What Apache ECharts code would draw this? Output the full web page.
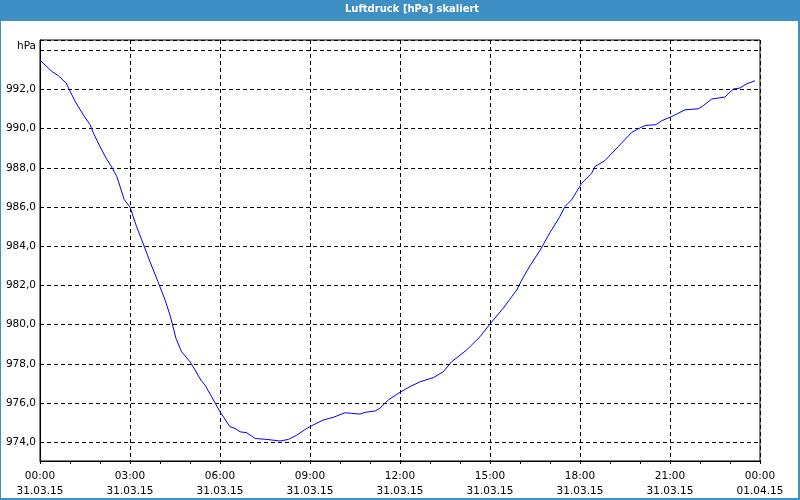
<!DOCTYPE html>
<html>
<head>
<meta charset="utf-8">
<script src="https://cdn.jsdelivr.net/npm/echarts@6/dist/echarts.min.js"></script>
<style>
html,body{margin:0;padding:0;background:#fff;}
#c{width:800px;height:500px;}
</style>
</head>
<body>
<div id="c"></div>
<script>
// Time in hours since 31.03.15 00:00
var hours = [0,0.39,0.61,0.87,0.98,1.17,1.44,1.67,1.78,2.0,2.2,2.39,2.56,2.81,3.0,3.22,3.39,3.67,3.93,4.17,4.33,4.42,4.53,4.72,5.0,5.17,5.36,5.5,5.72,6.0,6.33,6.5,6.67,6.89,7.17,7.56,8.0,8.28,8.56,8.89,9.06,9.44,9.78,10.17,10.39,10.67,10.83,11.17,11.33,11.61,11.89,12.33,12.67,13.11,13.44,13.72,14.22,14.67,15.0,15.44,15.89,16.06,16.33,16.67,17.0,17.33,17.5,17.72,18.06,18.39,18.5,18.83,19.28,19.72,19.94,20.17,20.53,20.72,21.06,21.5,21.94,22.11,22.39,22.83,23.11,23.33,23.56,23.83];
var pressure = [993.5,992.92,992.7,992.33,991.98,991.39,990.71,990.2,989.77,989.09,988.5,988.04,987.56,986.37,986.0,985.0,984.33,983.2,982.2,981.26,980.5,979.99,979.31,978.62,978.11,977.69,977.18,976.92,976.33,975.56,974.8,974.71,974.54,974.49,974.2,974.15,974.07,974.15,974.37,974.71,974.85,975.14,975.28,975.51,975.48,975.44,975.53,975.6,975.74,976.16,976.45,976.84,977.09,977.3,977.6,978.11,978.71,979.39,980.04,980.84,981.77,982.28,983.0,983.8,984.7,985.52,986.03,986.37,987.22,987.73,988.07,988.37,989.09,989.8,989.99,990.16,990.2,990.4,990.62,990.96,991.01,991.17,991.51,991.61,992.02,992.07,992.29,992.44];
var titleText = 'Luftdruck [hPa] skaliert';
var unitText = 'hPa';
var dayLabel = '31.03.15';
var nextDayLabel = '01.04.15';

var data = hours.map(function(h,i){return [h, pressure[i]];});
var chart = echarts.init(document.getElementById('c'), null, {renderer:'canvas'});
var blue = '#3d8fc4';
var font = 'DejaVu Sans';
function pad(n){return (n<10?'0':'')+n;}
chart.setOption({
  animation:false,
  backgroundColor:'#ffffff',
  title:{text:titleText, left:345, top:4, padding:0,
    textStyle:{color:'#fff', fontFamily:font, fontWeight:'bold', fontSize:10}},
  graphic:[
    {type:'rect', z:-1, shape:{x:0,y:0,width:800,height:21}, style:{fill:blue}},
    {type:'rect', shape:{x:0,y:21,width:1,height:479}, style:{fill:blue}},
    {type:'rect', shape:{x:798,y:21,width:2,height:479}, style:{fill:blue}},
    {type:'rect', shape:{x:0,y:498,width:800,height:2}, style:{fill:blue}},
    {type:'text', right:764, top:41, style:{text:unitText, fill:'#000', font:'10.5px "DejaVu Sans"', textAlign:'right'}}
  ],
  grid:{left:40, right:40, top:40, bottom:39, show:true, borderColor:'#000', borderWidth:1, backgroundColor:'#fff'},
  xAxis:{type:'value', min:0, max:24, interval:3,
    axisLine:{show:true, lineStyle:{color:'#000'}},
    axisTick:{show:true, length:3, lineStyle:{color:'#000'}},
    minorTick:{show:true, splitNumber:3, length:3, lineStyle:{color:'#000'}},
    splitLine:{show:true, lineStyle:{color:'#000', type:[4,3], width:1}},
    axisLabel:{color:'#000', fontFamily:font, fontSize:10.5, lineHeight:15, margin:8,
      showMinLabel:true, showMaxLabel:true,
      formatter:function(v){ if(v>=24) return '00:00\n'+nextDayLabel; return pad(v)+':00\n'+dayLabel; }}
  },
  yAxis:{type:'value', min:973.05, max:994.52, splitNumber:11,
    axisLine:{show:true, lineStyle:{color:'#000'}},
    axisTick:{show:false},
    splitLine:{show:true, lineStyle:{color:'#000', type:[4,3], width:1}},
    axisLabel:{color:'#000', fontFamily:font, fontSize:10.5, margin:4,
      formatter:function(v){ var r=Math.round(v); if(Math.abs(v-r)>0.01 || r%2!==0 || r===994) return ''; return r.toFixed(1).replace('.', ','); }}
  },
  series:[{type:'line', data:data, showSymbol:false, symbol:'none', lineStyle:{color:'#0000ff', width:1}, itemStyle:{color:'#0000ff'}}]
});
</script>
</body>
</html>
